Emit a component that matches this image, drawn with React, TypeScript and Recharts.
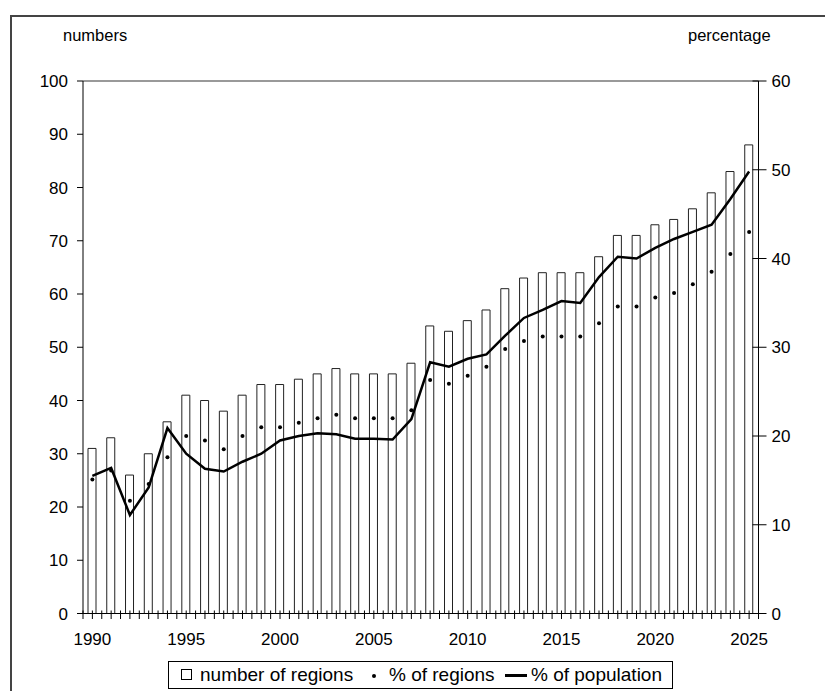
import React from "react";
import { ComposedChart, Bar, Line, XAxis, YAxis, ReferenceLine } from "recharts";

const years = [
  1990, 1991, 1992, 1993, 1994, 1995, 1996, 1997, 1998, 1999, 2000, 2001,
  2002, 2003, 2004, 2005, 2006, 2007, 2008, 2009, 2010, 2011, 2012, 2013,
  2014, 2015, 2016, 2017, 2018, 2019, 2020, 2021, 2022, 2023, 2024, 2025,
];

// bars, left axis
const numberOfRegions = [
  31, 33, 26, 30, 36, 41, 40, 38, 41, 43, 43, 44, 45, 46, 45, 45, 45, 47, 54,
  53, 55, 57, 61, 63, 64, 64, 64, 67, 71, 71, 73, 74, 76, 79, 83, 88,
];

// dots, right axis
const percentOfRegions = [
  15.1, 16.1, 12.7, 14.6, 17.6, 20.0, 19.5, 18.5, 20.0, 21.0, 21.0, 21.5,
  22.0, 22.4, 22.0, 22.0, 22.0, 22.9, 26.3, 25.9, 26.8, 27.8, 29.8, 30.7,
  31.2, 31.2, 31.2, 32.7, 34.6, 34.6, 35.6, 36.1, 37.1, 38.5, 40.5, 43.0,
];

// line, right axis
const percentOfPopulation = [
  15.5, 16.4, 11.1, 14.2, 20.9, 18.0, 16.3, 16.0, 17.1, 18.0, 19.5, 20.0,
  20.3, 20.2, 19.7, 19.7, 19.6, 21.9, 28.3, 27.8, 28.7, 29.2, 31.3, 33.3,
  34.2, 35.2, 35.0, 37.9, 40.2, 40.0, 41.2, 42.2, 43.0, 43.8, 46.7, 49.8,
];

const leftTicks = [0, 10, 20, 30, 40, 50, 60, 70, 80, 90, 100];
const rightTicks = [0, 10, 20, 30, 40, 50, 60];

const data = years.map((y, i) => ({
  year: y,
  regions: numberOfRegions[i],
  pctRegions: percentOfRegions[i],
  pctPopulation: percentOfPopulation[i],
}));

const FONT = "'Liberation Sans', Arial, sans-serif";
const W = 825;
const H = 691;
const PLOT_LEFT = 83;
const PLOT_RIGHT = 758.5;
const BAND = (PLOT_RIGHT - PLOT_LEFT) / years.length;
const X_MARGIN = 19;
const R_MARGIN = 13;

function XTick(props: any) {
  const { x, y, payload, index } = props;
  const axisY = y - X_MARGIN;
  const marks = [x - BAND / 2, x];
  if (index === years.length - 1) marks.push(x + BAND / 2);
  return (
    <g>
      {marks.map((mx, k) => (
        <line key={k} x1={mx} x2={mx} y1={axisY - 3} y2={axisY + 5.5} stroke="#000" strokeWidth={1} />
      ))}
      {payload.value % 5 === 0 && (
        <text x={x} y={y} dy="0.71em" textAnchor="middle" fontSize={17} fontFamily={FONT} fill="#000">
          {payload.value}
        </text>
      )}
    </g>
  );
}

function RightTick(props: any) {
  const { x, y, payload } = props;
  const axisX = x - R_MARGIN;
  return (
    <g>
      <line x1={axisX - 6} x2={axisX + 8} y1={y} y2={y} stroke="#000" strokeWidth={1} />
      <text x={x} y={y} dy="0.355em" textAnchor="start" fontSize={17} fontFamily={FONT} fill="#000">
        {payload.value}
      </text>
    </g>
  );
}

export default function App() {
  return (
    <div style={{ position: "absolute", left: 0, top: 0, width: W, height: H, overflow: "hidden", background: "#fff", fontFamily: FONT }}>
      <div style={{ position: "absolute", left: 10, top: 15, width: 840, height: 700, border: "2px solid #444", boxSizing: "border-box" }} />
      <div style={{ position: "absolute", left: 63, top: 26, fontSize: 16.5, color: "#000" }}>numbers</div>
      <div style={{ position: "absolute", left: 688, top: 26, fontSize: 16.5, color: "#000" }}>percentage</div>
      <div style={{ position: "absolute", left: 0, top: 0 }}>
        <ComposedChart width={W} height={H} data={data} margin={{ top: 81, right: 16.5, left: 43, bottom: 47.5 }}>
          <XAxis
            dataKey="year"
            interval={0}
            height={30}
            tickSize={0}
            tickMargin={X_MARGIN}
            tickLine={false}
            axisLine={{ stroke: "#000", strokeWidth: 1 }}
            tick={<XTick />}
          />
          <YAxis
            yAxisId="left"
            orientation="left"
            width={40}
            domain={[0, 100]}
            ticks={leftTicks}
            tickSize={6}
            tickMargin={9}
            tickLine={{ stroke: "#000" }}
            axisLine={{ stroke: "#000" }}
            tick={{ fontSize: 17, fontFamily: FONT, fill: "#000" }}
          />
          <YAxis
            yAxisId="right"
            orientation="right"
            width={50}
            domain={[0, 60]}
            ticks={rightTicks}
            tickSize={0}
            tickMargin={R_MARGIN}
            tickLine={false}
            axisLine={{ stroke: "#000" }}
            tick={<RightTick />}
          />
          <ReferenceLine yAxisId="left" y={100} stroke="#999" strokeWidth={2} />
          <Bar yAxisId="left" dataKey="regions" barSize={8} fill="#fff" stroke="#222" strokeWidth={1} isAnimationActive={false} />
          <Line
            yAxisId="right"
            dataKey="pctRegions"
            stroke="none"
            dot={{ r: 2, fill: "#000", stroke: "none" }}
            activeDot={false}
            isAnimationActive={false}
          />
          <Line
            yAxisId="right"
            type="linear"
            dataKey="pctPopulation"
            stroke="#000"
            strokeWidth={2.5}
            dot={false}
            activeDot={false}
            isAnimationActive={false}
          />
        </ComposedChart>
      </div>
      <div style={{ position: "absolute", left: 168, top: 661, width: 505, height: 28, border: "1px solid #000", boxSizing: "border-box", fontSize: 19, color: "#000" }}>
        <div style={{ position: "absolute", left: 12, top: 7, width: 11, height: 11, border: "1px solid #000", boxSizing: "border-box" }} />
        <div style={{ position: "absolute", left: 31, top: 2, lineHeight: "22px" }}>number of regions</div>
        <div style={{ position: "absolute", left: 203, top: 12, width: 4, height: 4, borderRadius: 2, background: "#000" }} />
        <div style={{ position: "absolute", left: 220, top: 2, lineHeight: "22px" }}>% of regions</div>
        <div style={{ position: "absolute", left: 336, top: 12, width: 22, height: 3, background: "#000" }} />
        <div style={{ position: "absolute", left: 362, top: 2, lineHeight: "22px" }}>% of population</div>
      </div>
    </div>
  );
}
